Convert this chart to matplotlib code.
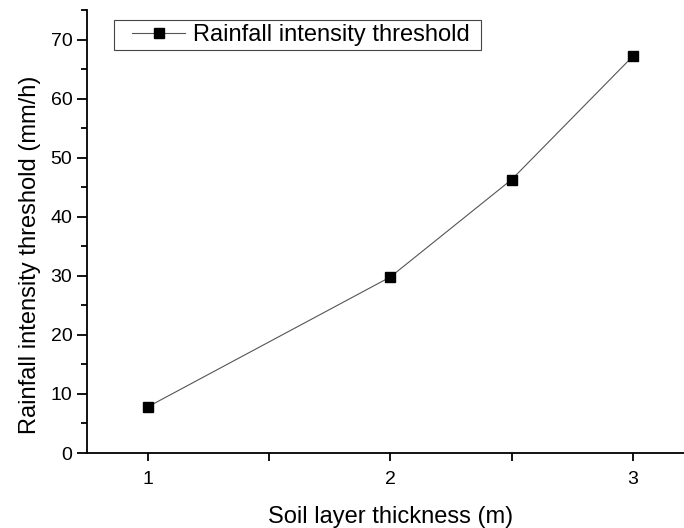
import numpy as np
import matplotlib.pyplot as plt
from matplotlib.ticker import MultipleLocator
from matplotlib.patches import Rectangle

plt.rcParams['font.family'] = ['Liberation Sans', 'DejaVu Sans']

thickness = [1, 2, 2.5, 3]
threshold = [7.8, 29.8, 46.3, 67.2]

fig = plt.figure(figsize=(6.84, 5.28), dpi=100)
# axes runs on past the right edge, like the cropped original
ax = fig.add_axes([87 / 684, 75 / 528, 606.7 / 684, 443 / 528])

ax.plot(thickness, threshold, color='#555555', lw=0.8, marker='s', ms=7,
        mfc='black', mec='black', label='Rainfall intensity threshold')

ax.set_xlim(0.75, 3.25)
ax.set_ylim(0, 75)
ax.xaxis.set_major_locator(MultipleLocator(1))
ax.xaxis.set_minor_locator(MultipleLocator(0.5))
ax.yaxis.set_major_locator(MultipleLocator(10))
ax.yaxis.set_minor_locator(MultipleLocator(5))

ax.spines['top'].set_visible(False)
ax.spines['right'].set_visible(False)
for s in ['left', 'bottom']:
    ax.spines[s].set_linewidth(1.3)
ax.tick_params(which='major', direction='out', length=7, width=1.3, labelsize=14)
ax.tick_params(which='minor', direction='out', length=4.3, width=1.3)
ax.tick_params(axis='x', which='major', length=6, pad=7)
ax.tick_params(axis='x', which='minor', length=6)
ax.tick_params(axis='y', pad=3.5)

ax.set_xlabel('Soil layer thickness (m)', fontsize=17, labelpad=13)
ax.set_ylabel('Rainfall intensity threshold (mm/h)', fontsize=17)
ax.yaxis.set_label_coords(-0.076, 0.447)

leg = ax.legend(loc='center left', bbox_to_anchor=(0.0742, 0.9436), fontsize=17,
                frameon=False, borderpad=0, borderaxespad=0, handlelength=2.25,
                handletextpad=0.34)
ax.add_patch(Rectangle((0.0445, 0.9097), 0.605, 0.0677, transform=ax.transAxes,
                       fill=False, ec='#444444', lw=0.8, clip_on=False))

fig.savefig('out.png', dpi=100)
